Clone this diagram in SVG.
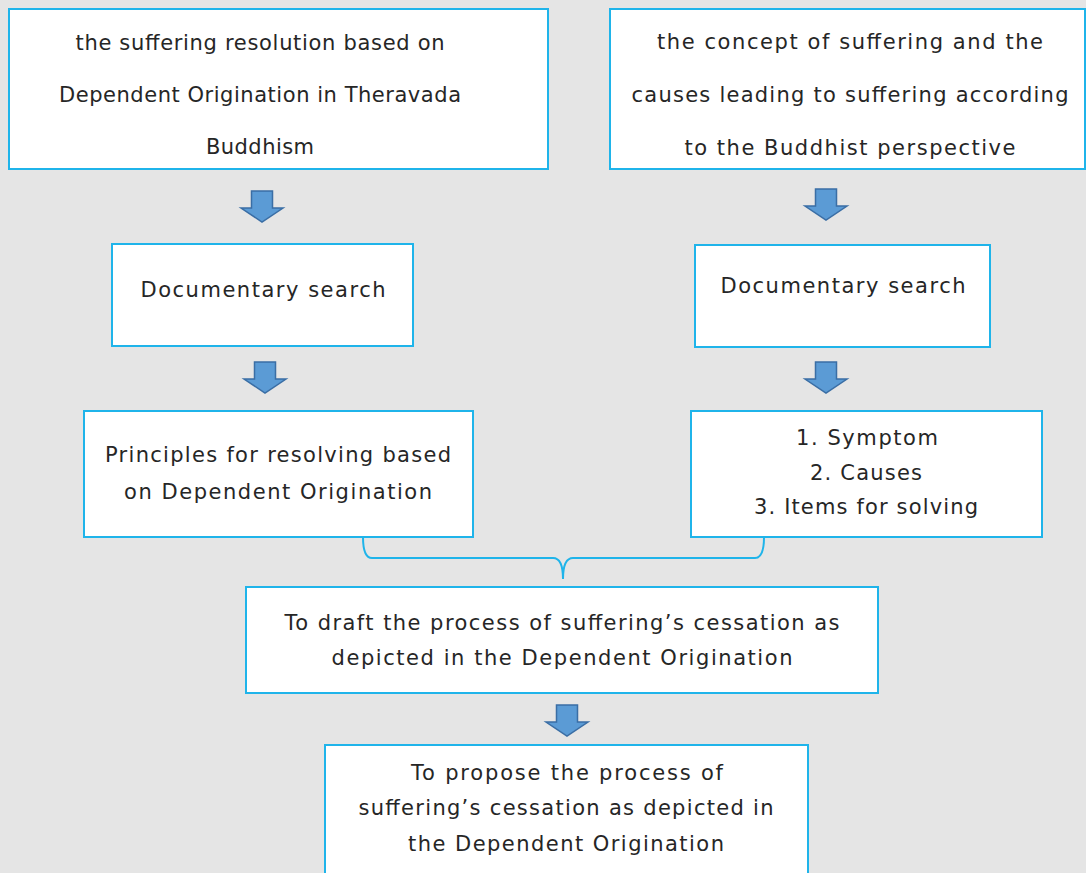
<svg xmlns="http://www.w3.org/2000/svg" width="1086" height="873" viewBox="0 0 1086 873">
  <defs>
    <style>
      .box { fill: #ffffff; stroke: #1fb4ea; stroke-width: 2; }
      .lbl { font-family: "DejaVu Sans", "Noto Sans", "Liberation Sans", sans-serif; font-size: 21px; fill: #262626; text-anchor: middle; }
      .arrow { fill: #5b9bd5; stroke: #3a6ea5; stroke-width: 1.5; stroke-linejoin: miter; }
      .brace { fill: none; stroke: #1fb4ea; stroke-width: 2; }
    </style>
    <!-- block arrow pointing down, centred on x=0, top at y=0 -->
    <path id="downArrow" d="M -10.5 0 H 10.5 V 17 H 21 L 0 31 L -21 17 H -10.5 Z"/>
  </defs>

  <rect width="1086" height="873" fill="#e5e5e5"/>

  <g id="node-resolution">
    <rect class="box" x="9" y="9" width="539" height="160"/>
    <text class="lbl" x="260" y="50" textLength="369" lengthAdjust="spacing">the suffering resolution based on</text>
    <text class="lbl" x="260" y="102" textLength="402" lengthAdjust="spacing">Dependent Origination in Theravada</text>
    <text class="lbl" x="260" y="154" textLength="108" lengthAdjust="spacing">Buddhism</text>
  </g>

  <g id="node-concept">
    <rect class="box" x="610" y="9" width="475" height="160"/>
    <text class="lbl" x="850" y="49" textLength="386" lengthAdjust="spacing">the concept of suffering and the</text>
    <text class="lbl" x="850" y="102" textLength="437" lengthAdjust="spacing">causes leading to suffering according</text>
    <text class="lbl" x="850" y="155" textLength="331" lengthAdjust="spacing">to the Buddhist perspective</text>
  </g>

  <g id="node-search-left">
    <rect class="box" x="112" y="244" width="301" height="102"/>
    <text class="lbl" x="263" y="297" textLength="245" lengthAdjust="spacing">Documentary search</text>
  </g>

  <g id="node-search-right">
    <rect class="box" x="695" y="245" width="295" height="102"/>
    <text class="lbl" x="843" y="293" textLength="245" lengthAdjust="spacing">Documentary search</text>
  </g>

  <g id="node-principles">
    <rect class="box" x="84" y="411" width="389" height="126"/>
    <text class="lbl" x="278" y="462" textLength="346" lengthAdjust="spacing">Principles for resolving based</text>
    <text class="lbl" x="278" y="499" textLength="308" lengthAdjust="spacing">on Dependent Origination</text>
  </g>

  <g id="node-items">
    <rect class="box" x="691" y="411" width="351" height="126"/>
    <text class="lbl" x="867" y="445" textLength="142" lengthAdjust="spacing">1. Symptom</text>
    <text class="lbl" x="866" y="480" textLength="112" lengthAdjust="spacing">2. Causes</text>
    <text class="lbl" x="866" y="514" textLength="224" lengthAdjust="spacing">3. Items for solving</text>
  </g>

  <g id="node-draft">
    <rect class="box" x="246" y="587" width="632" height="106"/>
    <text class="lbl" x="562" y="630" textLength="555" lengthAdjust="spacing">To draft the process of suffering’s cessation as</text>
    <text class="lbl" x="562" y="665" textLength="461" lengthAdjust="spacing">depicted in the Dependent Origination</text>
  </g>

  <g id="node-propose">
    <rect class="box" x="325" y="745" width="483" height="132"/>
    <text class="lbl" x="567" y="780" textLength="312" lengthAdjust="spacing">To propose the process of</text>
    <text class="lbl" x="566" y="815" textLength="415" lengthAdjust="spacing">suffering’s cessation as depicted in</text>
    <text class="lbl" x="566" y="851" textLength="316" lengthAdjust="spacing">the Dependent Origination</text>
  </g>

  <g id="connectors">
    <use href="#downArrow" class="arrow" x="262" y="191"/>
    <use href="#downArrow" class="arrow" x="826" y="189"/>
    <use href="#downArrow" class="arrow" x="265" y="362"/>
    <use href="#downArrow" class="arrow" x="826" y="362"/>
    <use href="#downArrow" class="arrow" x="567" y="705"/>
    <!-- brace joining the two columns into the draft step -->
    <path class="brace" d="M 363 537 Q 363 558 372 558 H 553 Q 563 558 563 579 Q 563 558 573 558 H 755 Q 764 558 764 537"/>
  </g>
</svg>
